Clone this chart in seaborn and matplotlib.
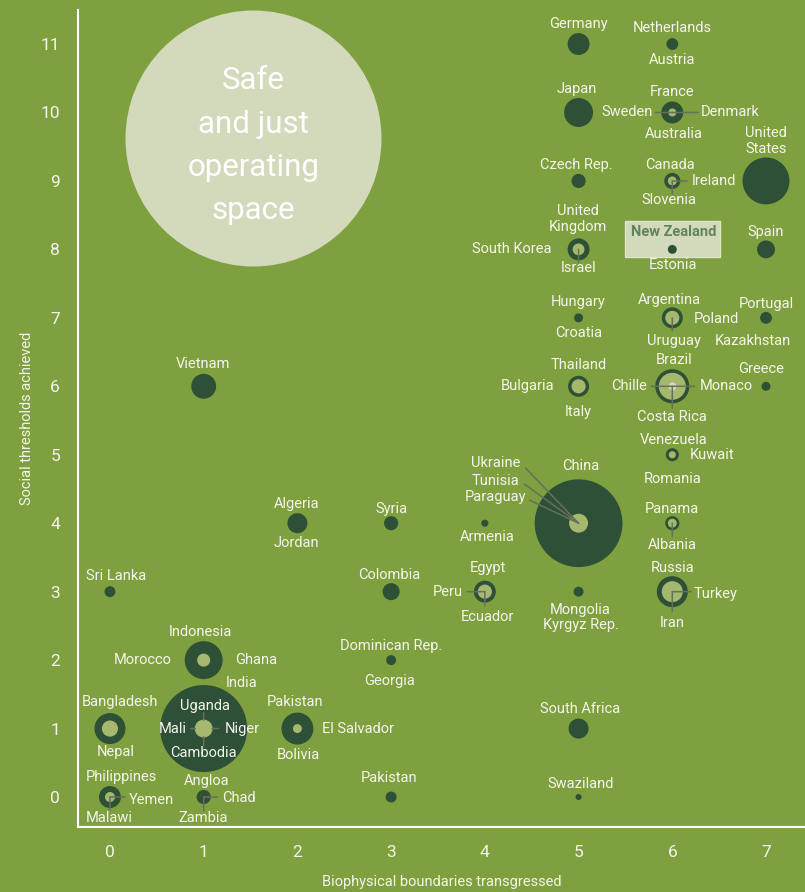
import matplotlib
matplotlib.use('Agg')
import pandas as pd
import seaborn as sns
import matplotlib.pyplot as plt
from matplotlib.patches import Rectangle

# bubble positions (biophysical boundaries transgressed, social thresholds achieved)
bx = [5, 6, 5, 6, 5, 6, 7, 5, 6, 7, 5, 6, 7, 5, 6, 7, 6, 5, 4, 6, 4, 5, 6,
      1, 2, 3, 0, 3, 1, 3, 1, 0, 2, 5, 0, 1, 3, 5]
by = [11, 11, 10, 10, 9, 9, 9, 8, 8, 8, 7, 7, 7, 6, 6, 6, 5, 4, 4, 4, 3, 3, 3,
      6, 4, 4, 3, 3, 2, 2, 1, 1, 1, 1, 0, 0, 0, 0]
# bubble weights (area), outer ring, inner disc and core
outer = [4.8, 1.4, 8.4, 4.8, 2.0, 2.6, 22, 4.8, 0.8, 3.2, 0.8, 4.4, 1.4, 4.4, 11.6, 0.8,
         1.7, 77, 0.5, 2.0, 4.8, 1.0, 9.6, 6.2, 4.0, 2.0, 1.2, 2.9, 14.4, 1.0, 75.7, 9.6,
         10.2, 4.0, 4.8, 2.0, 1.2, 0.36]
inner = [0, 0, 0, 0.64, 0, 0.8, 0, 1.4, 0, 0, 0, 2.0, 0, 2.0, 7.3, 0,
         0.5, 3.6, 0, 0.8, 2.0, 0, 4.4, 0, 0, 0, 0, 0, 1.7, 0, 3.2, 2.6,
         0.8, 0, 1.0, 0, 0, 0]
core = [0] * 14 + [0.64] + [0] * 23

x_ticks = [0, 1, 2, 3, 4, 5, 6, 7]
y_ticks = list(range(12))

df = pd.DataFrame({'x': bx, 'y': by, 'outer': outer, 'inner': inner, 'core': core})

# label layout: text, point, pixel offset, alignment
labels = [
    ("Germany", 5, 11, 0, 20, 'center'), ("Netherlands", 6, 11, 0, 16, 'center'),
    ("Austria", 6, 11, 0, -16, 'center'), ("Japan", 5, 10, -2, 23, 'center'),
    ("France", 6, 10, 0, 20, 'center'), ("Sweden", 6, 10, -19, 0, 'right'),
    ("Denmark", 6, 10, 28, 0, 'left'), ("Australia", 6, 10, 2, -22, 'center'),
    ("Czech Rep.", 5, 9, -2, 16, 'center'), ("Canada", 6, 9, -2, 16, 'center'),
    ("Ireland", 6, 9, 19, 0, 'left'), ("Slovenia", 6, 9, -3, -19, 'center'),
    ("United\nStates", 7, 9, 0, 40, 'center'), ("United\nKingdom", 5, 8, -1, 30, 'center'),
    ("South Korea", 5, 8, -27, 0, 'right'), ("Israel", 5, 8, 0, -19, 'center'),
    ("Estonia", 6, 8, 1, -16, 'center'), ("Spain", 7, 8, 0, 17, 'center'),
    ("Hungary", 5, 7, 0, 16, 'center'), ("Croatia", 5, 7, 0, -15, 'center'),
    ("Argentina", 6, 7, -3, 18, 'center'), ("Poland", 6, 7, 21, -1, 'left'),
    ("Uruguay", 6, 7, 2, -23, 'center'), ("Portugal", 7, 7, 0, 14, 'center'),
    ("Kazakhstan", 7, 7, -13, -23, 'center'), ("Thailand", 5, 6, 0, 21, 'center'),
    ("Bulgaria", 5, 6, -24, 0, 'right'), ("Italy", 5, 6, 0, -26, 'center'),
    ("Brazil", 6, 6, 2, 26, 'center'), ("Chille", 6, 6, -25, 0, 'right'),
    ("Monaco", 6, 6, 27, 0, 'left'), ("Costa Rica", 6, 6, 0, -31, 'center'),
    ("Greece", 7, 6, -5, 17, 'center'), ("Venezuela", 6, 5, 1, 15, 'center'),
    ("Kuwait", 6, 5, 17, 0, 'left'), ("Romania", 6, 5, 0, -24, 'center'),
    ("China", 5, 4, 2, 57, 'center'), ("Ukraine", 5, 4, -83, 60, 'center'),
    ("Tunisia", 5, 4, -83, 42, 'center'), ("Paraguay", 5, 4, -83, 26, 'center'),
    ("Armenia", 4, 4, 2, -14, 'center'), ("Panama", 6, 4, 0, 14, 'center'),
    ("Albania", 6, 4, 0, -22, 'center'), ("Egypt", 4, 3, 3, 24, 'center'),
    ("Peru", 4, 3, -22, 0, 'right'), ("Ecuador", 4, 3, 3, -25, 'center'),
    ("Mongolia", 5, 3, 2, -18, 'center'), ("Kyrgyz Rep.", 5, 3, 2, -33, 'center'),
    ("Russia", 6, 3, 0, 24, 'center'), ("Turkey", 6, 3, 21, -2, 'left'),
    ("Iran", 6, 3, 0, -31, 'center'), ("Vietnam", 1, 6, -1, 22, 'center'),
    ("Algeria", 2, 4, -1, 19, 'center'), ("Jordan", 2, 4, -1, -20, 'center'),
    ("Syria", 3, 4, 0, 14, 'center'), ("Sri Lanka", 0, 3, 6, 16, 'center'),
    ("Colombia", 3, 3, -2, 17, 'center'), ("Indonesia", 1, 2, -3, 28, 'center'),
    ("Morocco", 1, 2, -32, 0, 'right'), ("Ghana", 1, 2, 31, 0, 'left'),
    ("Dominican Rep.", 3, 2, 0, 14, 'center'), ("Georgia", 3, 2, -2, -21, 'center'),
    ("India", 1, 1, 38, 46, 'center'), ("Uganda", 1, 1, 1, 23, 'center'),
    ("Mali", 1, 1, -17, 0, 'right'), ("Niger", 1, 1, 21, 0, 'left'),
    ("Cambodia", 1, 1, 0, -24, 'center'), ("Bangladesh", 0, 1, 10, 27, 'center'),
    ("Nepal", 0, 1, 6, -23, 'center'), ("Pakistan", 2, 1, -2, 27, 'center'),
    ("El Salvador", 2, 1, 25, 0, 'left'), ("Bolivia", 2, 1, 1, -26, 'center'),
    ("South Africa", 5, 1, 2, 20, 'center'), ("Philippines", 0, 0, 11, 20, 'center'),
    ("Yemen", 0, 0, 19, -3, 'left'), ("Malawi", 0, 0, -1, -21, 'center'),
    ("Angloa", 1, 0, 3, 16, 'center'), ("Chad", 1, 0, 18, -1, 'left'),
    ("Zambia", 1, 0, 0, -21, 'center'), ("Pakistan", 3, 0, -2, 19, 'center'),
    ("Swaziland", 5, 0, 2, 13, 'center'),
]

# leader lines: point, end offset (pixels), shrink at point (pt)
leaders = [
    (6, 10, -17, 0, 0), (6, 10, 26, 0, 0), (6, 9, 15, 0, 0), (6, 9, 0, -13, 0),
    (5, 8, 0, -13, 0), (6, 7, 0, -13, 0), (6, 6, -21, 0, 0), (6, 6, 22, 0, 0),
    (6, 6, 0, -22, 0), (5, 4, -53, 55, 0), (5, 4, -54, 39, 0), (5, 4, -49, 23, 0),
    (6, 4, 0, -13, 0), (4, 3, -18, 0, 0), (4, 3, 0, -14, 0), (6, 3, 19, 0, 0),
    (6, 3, 0, -20, 0), (1, 1, 0, 16, 6), (1, 1, -13, 0, 6), (1, 1, 15, 0, 6),
    (1, 1, 0, -17, 6), (0, 0, 15, 0, 0), (0, 0, 0, -13, 0), (1, 0, 14, 0, 0),
    (1, 0, 0, -14, 0),
]

bg = '#7ea03f'
dark = '#2d5037'
light = '#a5b86e'
pale = '#d3dabc'
txt = '#f4f4ec'
lab_size = 10.5

sns.set_style('white')
plt.rcParams['font.family'] = ['Roboto', 'DejaVu Sans']

fig = plt.figure(figsize=(8.05, 8.92), dpi=100, facecolor=bg)
ax = fig.add_axes([78 / 805, 65 / 892, 727 / 805, 817 / 892])
ax.set_facecolor(bg)

size_kw = dict(size_norm=(0, 100), sizes=(0, 5184), linewidth=0, legend=False)

# safe and just operating space
ax.scatter([1.53], [9.63], s=(256 * 0.72) ** 2, color=pale, linewidth=0, zorder=1)
ax.annotate("Safe\nand just\noperating\nspace", (1.53, 9.63), xytext=(0, -8),
            textcoords='offset pixels', ha='center', va='center',
            color='white', fontsize=22.5, linespacing=1.62, zorder=2)

# New Zealand highlight box
ax.add_patch(Rectangle((5.498, 7.883), 1.014, 0.526, facecolor=pale,
                       edgecolor='#dfe4cc', linewidth=1, zorder=2))
ax.annotate("New Zealand", (6, 8), xytext=(1, 17), textcoords='offset pixels',
            ha='center', va='center', fontsize=lab_size, fontweight='bold',
            color='#62835f', zorder=6)

sns.scatterplot(data=df, x='x', y='y', size='outer', color=dark, ax=ax, zorder=3, **size_kw)
sns.scatterplot(data=df[df.inner > 0], x='x', y='y', size='inner', color=light, ax=ax,
                zorder=4, **size_kw)
sns.scatterplot(data=df[df.core > 0], x='x', y='y', size='core', color=pale, ax=ax,
                zorder=4.5, **size_kw)

for lx, ly, dx, dy, sh in leaders:
    ax.annotate("", (lx, ly), xytext=(dx, dy), textcoords='offset pixels',
                arrowprops=dict(arrowstyle='-', color='#66705f', lw=1.1,
                                shrinkA=0, shrinkB=sh), zorder=5)

for name, lx, ly, dx, dy, ha in labels:
    ax.annotate(name, (lx, ly), xytext=(dx, dy), textcoords='offset pixels',
                ha=ha, va='center', fontsize=lab_size, color=txt, linespacing=1.2, zorder=6)

ax.set_xlim(-0.341, 7.416)
ax.set_ylim(-0.438, 11.497)
ax.set_xticks(x_ticks)
ax.set_yticks(y_ticks)

for side in ['top', 'right']:
    ax.spines[side].set_visible(False)
for side in ['left', 'bottom']:
    ax.spines[side].set_color('white')
    ax.spines[side].set_linewidth(1.5)

ax.tick_params(axis='both', direction='out', length=7, width=1.1, color='white',
               labelcolor=txt, labelsize=12.5, pad=6)

ax.set_xlabel("Biophysical boundaries transgressed", color=txt, fontsize=10.5)
ax.set_ylabel("Social thresholds achieved", color=txt, fontsize=10.5)
ax.xaxis.set_label_coords(0.5, -0.059)
ax.yaxis.set_label_coords(-0.06, 0.5)

plt.savefig("out.png", dpi=100, facecolor=bg)
